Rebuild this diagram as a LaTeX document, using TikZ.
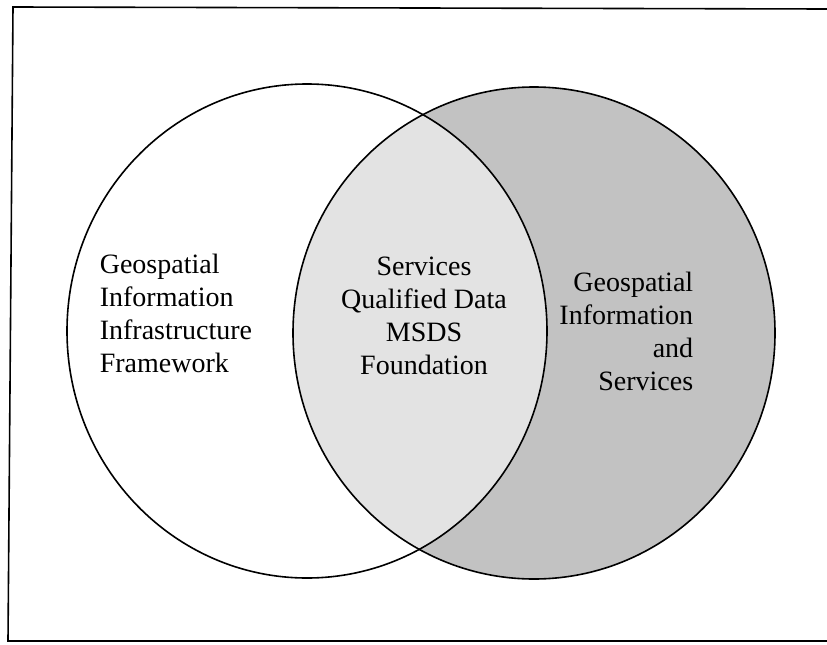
\documentclass[tikz,border=0pt]{standalone}
\usepackage{fontspec}
\setmainfont{Liberation Serif}
\usepackage{xcolor}
\usepackage{tikz}
\usetikzlibrary{positioning}
\definecolor{lightdots}{gray}{0.89}
\definecolor{darkdots}{gray}{0.76}

\begin{document}
\begin{tikzpicture}[x=1pt,y=-1pt,
	line width=1.6pt,
	font=\fontsize{28}{33}\selectfont]
	\tikzstyle{every node}=[inner sep=0pt]
  \useasboundingbox (0,0) rectangle (827,645);
  \draw (827,9) -- (13,7) -- (8,641) -- (827,641);
  \fill[darkdots] (534,333) ellipse (241 and 246);
  \begin{scope}
    \clip (307,331) ellipse (240 and 247);
    \fill[lightdots] (534,333) ellipse (241 and 246);
  \end{scope}
  \draw (307,331) ellipse (240 and 247);
  \draw (534,333) ellipse (241 and 246);
  \node[anchor=north west, align=left] (gii) at (99,253)
    {Geospatial\\Information\\Infrastructure\\Framework};
  \node[anchor=north, align=center] (core) at (424,256)
    {Services\\Qualified Data\\MSDS\\Foundation};
  \node[anchor=north east, align=right] (gis) at (694,271)
    {Geospatial\\Information\\and\\Services};
\end{tikzpicture}
\end{document}
